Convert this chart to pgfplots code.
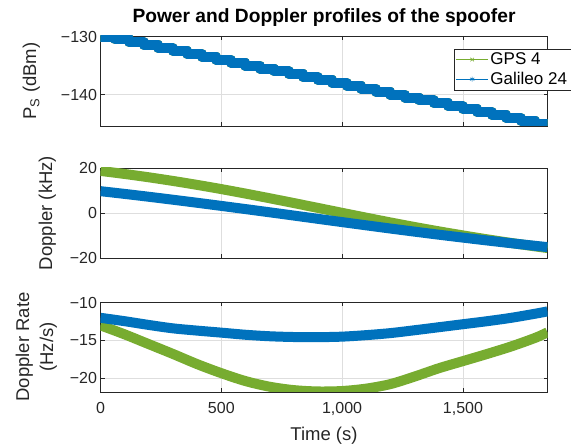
\documentclass[border=0pt]{standalone}
\usepackage{fontspec}
\setmainfont{Liberation Sans}
\usepackage{pgfplots}
\pgfplotsset{compat=1.18}
\definecolor{mblue}{rgb}{0,0.447,0.741}
\definecolor{mgreen}{rgb}{0.466,0.674,0.188}
\definecolor{axgray}{rgb}{0.15,0.15,0.15}
\definecolor{gridgray}{rgb}{0.87,0.87,0.87}
\pgfplotsset{
 myax/.style={
  scale only axis, width=447pt, height=90pt, anchor=south west,
  xmin=0, xmax=1850,
  xtick={0,500,1000,1500},
  grid=major, grid style={gridgray, line width=0.5pt},
  axis line style={axgray, line width=0.7pt},
  tick style={axgray, line width=0.7pt},
  major tick length=4pt, tick align=inside, tick pos=both,
  ticklabel style={font=\fontsize{16}{18}\selectfont, text=axgray},
  xticklabel style={yshift=-7pt},
  label style={font=\fontsize{18.5}{24}\selectfont, text=axgray},
 },
 band/.style={line width=10pt, line join=round, no marks},
}
\begin{document}
\begin{tikzpicture}
% ---------- Panel 1 ----------
\begin{axis}[myax, at={(100.5pt,320pt)},
  ymin=-145.4, ymax=-129.9,
  ytick={-140,-130}, yticklabels={−140,−130},
  xticklabels={},
  ylabel={P\textsubscript{S} (dBm)},
  ylabel style={yshift=14pt},
  title={Power and Doppler profiles of the spoofer},
  title style={font=\fontsize{19.2}{21}\selectfont\bfseries, text=black},
  legend style={at={(0.79,0.86)}, anchor=north west,
    font=\fontsize{17}{19}\selectfont, draw=axgray, line width=0.5pt,
    inner sep=2pt, row sep=2pt, cells={anchor=west}},
  legend image code/.code={\draw[mark repeat=2,mark phase=2,#1] plot coordinates {(0pt,0pt) (16pt,0pt) (32pt,0pt)};},
]
\addlegendimage{mgreen, line width=0.6pt, mark=x, mark size=2.5pt}
\addlegendentry{GPS 4}
\addlegendimage{mblue, line width=0.6pt, mark=asterisk, mark size=2.5pt}
\addlegendentry{Galileo 24}
\addplot[band, mgreen, const plot, forget plot] coordinates {
(0,-130) (60,-130.5) (120,-131) (180,-131.5) (240,-132) (300,-132.5) (360,-133) (420,-133.5) (480,-134) (540,-134.5) (600,-135) (660,-135.5) (720,-136) (780,-136.5) (840,-137) (900,-137.5) (960,-138) (1020,-138.5) (1080,-139) (1140,-139.5) (1200,-140) (1260,-140.5) (1320,-141) (1380,-141.5) (1440,-142) (1500,-142.5) (1560,-143) (1620,-143.5) (1680,-144) (1740,-144.5) (1800,-145) (1850,-145)};
\addplot[band, mblue, const plot, forget plot] coordinates {
(0,-130) (60,-130.5) (120,-131) (180,-131.5) (240,-132) (300,-132.5) (360,-133) (420,-133.5) (480,-134) (540,-134.5) (600,-135) (660,-135.5) (720,-136) (780,-136.5) (840,-137) (900,-137.5) (960,-138) (1020,-138.5) (1080,-139) (1140,-139.5) (1200,-140) (1260,-140.5) (1320,-141) (1380,-141.5) (1440,-142) (1500,-142.5) (1560,-143) (1620,-143.5) (1680,-144) (1740,-144.5) (1800,-145) (1850,-145)};
\end{axis}
% ---------- Panel 2 ----------
\begin{axis}[myax, at={(100.5pt,188pt)},
  ymin=-20, ymax=20,
  ytick={-20,0,20}, yticklabels={−20,0,20},
  xticklabels={},
  ylabel={Doppler (kHz)},
  ylabel style={yshift=7pt},
]
\addplot[band, mgreen, smooth] coordinates {
(0,18.7) (100,17.34) (200,15.86) (300,14.24) (400,12.49) (500,10.62) (600,8.63) (700,6.55) (800,4.42) (900,2.25) (1000,0.07) (1100,-2.09) (1200,-4.20) (1300,-6.23) (1400,-8.15) (1500,-9.97) (1600,-11.70) (1700,-13.33) (1800,-14.85) (1850,-15.57)};
\addplot[band, mblue, smooth] coordinates {
(0,9.7) (100,8.48) (200,7.21) (300,5.89) (400,4.54) (500,3.15) (600,1.74) (700,0.31) (800,-1.14) (900,-2.60) (1000,-4.05) (1100,-5.49) (1200,-6.91) (1300,-8.29) (1400,-9.64) (1500,-10.94) (1600,-12.21) (1700,-13.43) (1800,-14.60) (1850,-15.17)};
\end{axis}
% ---------- Panel 3 ----------
\begin{axis}[myax, at={(100.5pt,54pt)},
  ymin=-21.85, ymax=-9.9,
  ytick={-20,-15,-10}, yticklabels={−20,−15,−10},
  xticklabels={0,500,{1,000},{1,500}},
  xlabel={Time (s)},
  xlabel style={yshift=-4pt},
  ylabel={Doppler Rate\\(Hz/s)},
  ylabel style={align=center, yshift=6pt},
]
\addplot[band, mgreen, smooth] coordinates {
(0,-13.0) (100,-14.2) (200,-15.5) (300,-16.8) (400,-18.15) (500,-19.35) (600,-20.4) (700,-21.15) (800,-21.6) (900,-21.78) (1000,-21.72) (1100,-21.4) (1200,-20.8) (1300,-19.8) (1400,-18.7) (1500,-17.75) (1600,-16.8) (1700,-15.8) (1800,-14.65) (1850,-13.93)};
\addplot[band, mblue, smooth] coordinates {
(0,-12.0) (100,-12.45) (200,-12.95) (300,-13.4) (400,-13.7) (500,-13.97) (600,-14.25) (700,-14.45) (800,-14.55) (900,-14.57) (1000,-14.5) (1100,-14.3) (1200,-14.03) (1300,-13.65) (1400,-13.25) (1500,-12.85) (1600,-12.45) (1700,-12.0) (1800,-11.45) (1850,-11.15)};
\end{axis}
\pgfresetboundingbox
\path[use as bounding box] (0,0) rectangle (571pt,446pt);
\end{tikzpicture}
\end{document}
